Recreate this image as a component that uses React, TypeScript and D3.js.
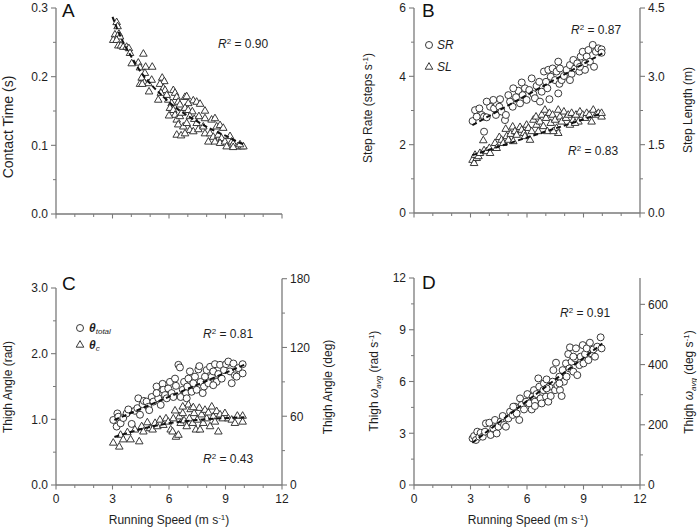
import React from 'react';
import * as d3 from 'd3';

// ---------------- DATA ----------------
// Panel A: contact time (s) vs running speed (m/s)
const contactTime: [number, number][] = [
  [3.22,0.279],[3.27,0.273],[3.13,0.261],[3.34,0.262],[3.40,0.258],[3.04,0.253],[3.22,0.253],[3.31,0.245],
  [3.45,0.245],[3.57,0.243],[3.75,0.243],[3.87,0.241],[3.93,0.234],[4.64,0.233],[4.02,0.219],[4.37,0.220],
  [4.46,0.213],[4.76,0.214],[5.11,0.214],[4.72,0.205],[4.55,0.198],[4.69,0.191],[4.90,0.190],[5.08,0.195],
  [4.46,0.189],[4.58,0.189],[5.64,0.198],[5.75,0.193],[5.52,0.189],[5.70,0.183],[5.79,0.180],[5.57,0.176],
  [4.94,0.178],[6.23,0.180],[6.32,0.176],[6.41,0.170],[5.96,0.166],[6.14,0.161],[6.49,0.163],[6.58,0.159],
  [6.85,0.170],[6.94,0.171],[7.29,0.165],[7.47,0.163],[7.65,0.160],[7.02,0.161],[6.05,0.154],[6.23,0.151],
  [6.32,0.144],[6.00,0.143],[6.41,0.137],[6.58,0.142],[6.67,0.147],[6.85,0.154],[7.02,0.151],[7.24,0.149],
  [7.91,0.150],[7.11,0.142],[7.34,0.138],[7.47,0.132],[7.59,0.142],[6.49,0.130],[6.76,0.127],[6.94,0.132],
  [7.11,0.122],[6.41,0.115],[6.64,0.114],[6.85,0.117],[7.29,0.120],[7.56,0.123],[7.82,0.127],[7.91,0.139],
  [8.26,0.137],[8.44,0.139],[8.53,0.127],[8.71,0.129],[8.88,0.125],[7.91,0.117],[8.18,0.117],[8.35,0.112],
  [8.62,0.115],[8.79,0.110],[8.09,0.105],[8.44,0.105],[8.71,0.103],[8.97,0.105],[9.24,0.113],[9.33,0.105],
  [9.06,0.098],[9.41,0.102],[9.64,0.098],[9.86,0.098],[9.41,0.097],[9.95,0.098],[9.77,0.101],[5.88,0.173],
  [5.43,0.166],
];
const contactFit: [number, number][] = [
  [3.0,0.287],[3.5,0.254],[4,0.229],[4.5,0.207],[5,0.190],[5.5,0.176],[6,0.163],[6.5,0.152],
  [7,0.143],[7.5,0.135],[8,0.127],[8.5,0.120],[9,0.114],[9.5,0.107],[10,0.101],
];

// Panel B: step rate (steps/s) and step length (m)
const stepRate: [number, number][] = [
  [3.11,2.69],[3.24,3.01],[3.47,3.06],[3.59,2.87],[3.33,2.82],[3.72,2.82],[3.86,2.80],[3.72,2.38],
  [4.04,3.11],[4.25,3.06],[4.39,3.21],[4.53,3.11],[4.35,2.87],[4.65,2.97],[4.83,2.72],[4.88,2.87],
  [4.57,3.33],[5.01,3.45],[5.10,3.26],[5.24,3.11],[5.42,3.39],[5.54,3.58],[5.63,3.21],[5.77,3.45],
  [5.89,3.65],[5.98,3.31],[6.25,3.94],[6.12,3.60],[6.34,3.48],[6.42,3.36],[6.51,3.72],[6.65,3.84],
  [6.69,3.26],[6.78,3.55],[6.90,4.14],[7.01,3.84],[7.08,3.65],[7.19,3.33],[7.13,4.19],[7.36,4.23],
  [7.26,3.99],[7.49,3.89],[7.57,4.14],[7.66,4.43],[7.72,3.78],[7.84,3.89],[7.66,3.50],[7.96,4.01],
  [8.10,4.19],[8.28,4.33],[8.37,4.07],[8.46,4.48],[8.55,4.23],[8.67,4.38],[8.78,4.14],[8.85,4.58],
  [8.96,4.72],[9.08,4.38],[9.17,4.58],[9.26,4.77],[9.08,4.19],[9.34,4.43],[9.49,4.92],[9.56,4.28],
  [9.66,4.72],[9.79,4.82],[9.96,4.79],[9.96,4.69],[8.81,4.28],[8.28,3.89],[7.75,4.23],[5.72,3.82],
  [5.27,3.65],[4.21,3.31],[3.86,3.26],
];
const stepRateFit: [number, number][] = [[3.1,2.57],[10,4.67]];

const stepLength: [number, number][] = [
  [3.11,1.16],[3.19,1.09],[3.33,1.20],[3.24,1.27],[3.42,1.24],[3.50,1.31],[3.68,1.59],[3.72,1.37],
  [3.86,1.35],[4.00,1.42],[4.04,1.31],[4.30,1.53],[4.39,1.42],[4.53,1.66],[4.65,1.60],[4.74,1.53],
  [4.87,1.84],[4.92,1.68],[5.01,1.60],[5.13,1.73],[5.24,1.89],[5.36,1.79],[5.45,1.71],[5.63,1.88],
  [5.72,1.82],[5.84,1.75],[5.98,1.93],[6.07,1.86],[6.16,1.60],[6.25,1.79],[6.34,2.04],[6.48,2.11],
  [6.51,1.93],[6.60,1.79],[6.69,2.00],[6.78,2.15],[6.87,1.90],[6.95,2.26],[7.01,2.08],[7.08,1.79],
  [7.19,2.19],[7.26,1.97],[7.36,2.15],[7.49,2.04],[7.57,1.86],[7.66,2.26],[7.66,1.75],[7.75,2.11],
  [7.84,2.00],[7.96,2.22],[8.07,2.08],[8.19,2.15],[8.28,1.93],[8.37,2.19],[8.46,2.04],[8.60,2.15],
  [8.73,2.00],[8.81,2.22],[8.96,2.15],[9.08,2.08],[9.17,2.19],[9.31,2.15],[9.43,2.00],[9.52,2.26],
  [9.66,2.15],[9.79,2.19],[9.96,2.11],[9.96,2.19],[8.55,1.97],[7.40,1.79],[5.89,1.68],[5.27,1.57],
];
const stepLengthFit: [number, number][] = [[3.1,1.27],[10,2.19]];

// Panel C: thigh angle (rad)
const thetaTotal: [number, number][] = [
  [3.04,0.99],[3.26,1.09],[3.31,1.04],[3.22,0.89],[3.43,0.94],[3.57,1.02],[3.75,1.09],[3.84,1.15],
  [4.02,0.93],[4.19,1.13],[4.32,1.17],[4.37,1.32],[4.46,1.07],[4.60,1.23],[4.67,1.28],[4.81,1.27],
  [4.90,1.19],[4.95,1.14],[5.08,1.34],[5.17,1.27],[5.34,1.50],[5.43,1.32],[5.56,1.22],[5.66,1.54],
  [5.70,1.45],[5.79,1.37],[5.88,1.32],[5.96,1.47],[6.05,1.57],[6.14,1.40],[6.23,1.34],[6.32,1.62],
  [6.37,1.51],[6.50,1.83],[6.58,1.79],[6.62,1.34],[6.73,1.45],[6.80,1.57],[6.90,1.40],[6.97,1.50],
  [7.03,1.62],[7.11,1.73],[7.20,1.42],[7.29,1.55],[7.38,1.65],[7.47,1.45],[7.56,1.76],[7.61,1.81],
  [7.68,1.57],[7.79,1.40],[7.86,1.50],[7.91,1.65],[8.00,1.75],[8.09,1.55],[8.18,1.80],[8.27,1.65],
  [8.35,1.73],[8.44,1.84],[8.53,1.57],[8.62,1.69],[8.71,1.83],[8.80,1.62],[8.92,1.75],[9.03,1.84],
  [9.15,1.88],[9.24,1.73],[9.33,1.55],[9.42,1.85],[9.50,1.67],[9.59,1.65],[9.68,1.78],[9.91,1.84],
  [9.91,1.70],[8.35,1.52],[6.94,1.32],[5.34,1.40],
];
const thetaTotalFit: [number, number][] = [[3.1,0.99],[10,1.83]];

const thetaC: [number, number][] = [
  [3.04,0.64],[3.36,0.58],[3.43,0.76],[3.57,0.69],[3.79,0.80],[3.96,0.69],[4.19,0.84],[4.42,0.66],
  [4.55,0.89],[4.64,0.81],[4.85,0.95],[4.99,0.86],[5.13,0.84],[5.26,0.94],[5.38,0.89],[5.52,0.99],
  [5.70,0.91],[5.84,1.01],[5.96,0.96],[6.09,0.84],[6.19,0.81],[6.23,1.01],[6.32,1.13],[6.37,0.73],
  [6.50,0.76],[6.55,1.04],[6.62,0.94],[6.73,1.09],[6.80,0.98],[6.94,0.89],[7.03,1.22],[7.08,1.01],
  [7.15,1.15],[7.26,0.94],[7.33,1.09],[7.43,0.84],[7.50,0.99],[7.61,1.17],[7.65,0.84],[7.73,1.07],
  [7.82,0.94],[7.91,1.14],[8.00,1.01],[8.09,1.10],[8.18,0.89],[8.27,1.19],[8.35,1.04],[8.44,0.96],
  [8.53,1.12],[8.62,0.81],[8.71,1.07],[8.85,1.01],[8.97,1.09],[9.15,1.01],[9.33,0.99],[9.50,0.94],
  [9.63,1.05],[9.91,0.96],[9.91,1.05],[7.29,1.18],[6.73,1.19],
];
const thetaCFit: [number, number][] = [[3.1,0.73],[4.5,0.85],[6,0.94],[7.5,0.99],[10,1.03]];

// Panel D: thigh average angular velocity (rad/s)
const omegaAvg: [number, number][] = [
  [3.11,2.70],[3.19,2.84],[3.29,2.61],[3.36,3.09],[3.47,2.80],[3.54,3.03],[3.65,2.80],[3.77,3.09],
  [3.82,3.57],[4.00,3.61],[4.07,2.90],[4.21,3.28],[4.30,3.77],[4.39,2.99],[4.48,3.38],[4.60,3.67],
  [4.71,4.00],[4.78,3.48],[4.88,3.38],[5.01,3.86],[5.10,4.25],[5.24,4.06],[5.36,4.54],[5.45,4.15],
  [5.59,3.77],[5.63,5.02],[5.72,4.64],[5.84,4.38],[5.95,4.83],[6.02,5.27],[6.12,4.73],[6.25,4.38],
  [6.30,5.12],[6.37,5.50],[6.42,4.83],[6.51,5.27],[6.60,6.18],[6.65,5.70],[6.72,5.02],[6.78,4.73],
  [6.87,5.50],[6.90,5.89],[7.01,5.12],[7.04,6.12],[7.13,4.83],[7.19,5.70],[7.26,5.16],[7.36,5.99],
  [7.40,6.66],[7.49,5.50],[7.54,7.09],[7.61,5.79],[7.72,6.28],[7.75,5.50],[7.84,5.16],[7.89,6.66],
  [7.96,5.99],[8.07,7.05],[8.10,6.28],[8.19,7.59],[8.25,6.76],[8.28,7.98],[8.37,7.15],[8.46,6.57],
  [8.55,7.34],[8.60,7.92],[8.67,6.37],[8.78,6.95],[8.85,7.44],[8.96,8.11],[9.00,7.05],[9.08,7.59],
  [9.17,7.92],[9.26,7.24],[9.34,8.25],[9.43,7.63],[9.52,7.86],[9.61,7.44],[9.73,8.02],[9.91,8.56],
  [9.96,7.92],[8.46,7.44],[7.72,5.89],[7.04,5.60],[6.42,4.58],[5.27,4.54],
];
const omegaFit: [number, number][] = [[3.1,2.45],[10,8.2]];

const xMajor = [0, 3, 6, 9, 12];
const xMinor = [1, 2, 4, 5, 7, 8, 10, 11];

// ---------------- STYLE ----------------
const FONT = "'Liberation Sans', Arial, Helvetica, sans-serif";
const AX = '#7a7a7a';
const TXT = '#1e1e1e';
const MK = '#2e2e2e';

type S = d3.ScaleLinear<number, number>;

function YAxis({ s, x, side, major, minor, fmt, top }: { s: S; x: number; side: 'left' | 'right'; major: number[]; minor: number[]; fmt: (v: number) => string; top?: number }) {
  const dir = side === 'left' ? -1 : 1;
  const d = s.domain();
  return (
    <g>
      <line x1={x} x2={x} y1={s(d[0])} y2={top ?? s(d[1])} stroke={AX} strokeWidth={1.3} />
      {minor.map((v) => (
        <line key={'m' + v} x1={x} x2={x + dir * 3} y1={s(v)} y2={s(v)} stroke={AX} strokeWidth={1} />
      ))}
      {major.map((v) => (
        <g key={'M' + v}>
          <line x1={x} x2={x + dir * 5} y1={s(v)} y2={s(v)} stroke={AX} strokeWidth={1.1} />
          <text x={x + dir * 8} y={s(v)} dy="0.36em" textAnchor={side === 'left' ? 'end' : 'start'} fontSize={12} fill={TXT}>
            {fmt(v)}
          </text>
        </g>
      ))}
    </g>
  );
}

function XAxis({ s, y, labels }: { s: S; y: number; labels: boolean }) {
  const d = s.domain();
  return (
    <g>
      <line x1={s(d[0])} x2={s(d[1])} y1={y} y2={y} stroke={AX} strokeWidth={1.3} />
      {xMinor.map((v) => (
        <line key={'m' + v} x1={s(v)} x2={s(v)} y1={y} y2={y + 3} stroke={AX} strokeWidth={1} />
      ))}
      {xMajor.map((v) => (
        <g key={'M' + v}>
          <line x1={s(v)} x2={s(v)} y1={y} y2={y + 4.5} stroke={AX} strokeWidth={1.1} />
          {labels && (
            <text x={s(v)} y={y + 18} textAnchor="middle" fontSize={12} fill={TXT}>
              {v}
            </text>
          )}
        </g>
      ))}
    </g>
  );
}

const triPath = d3.symbol().type(d3.symbolTriangle).size(25)() as string;

function Circles({ data, xs, ys }: { data: [number, number][]; xs: S; ys: S }) {
  return (
    <g>
      {data.map((p, i) => (
        <circle key={i} cx={xs(p[0])} cy={ys(p[1])} r={3.5} fill="#fff" stroke={MK} strokeWidth={0.95} />
      ))}
    </g>
  );
}
function Triangles({ data, xs, ys }: { data: [number, number][]; xs: S; ys: S }) {
  return (
    <g>
      {data.map((p, i) => (
        <path key={i} d={triPath} transform={`translate(${xs(p[0])},${ys(p[1])})`} fill="#fff" stroke={MK} strokeWidth={0.95} />
      ))}
    </g>
  );
}
function Fit({ data, xs, ys }: { data: [number, number][]; xs: S; ys: S }) {
  const line = d3
    .line<[number, number]>()
    .x((d) => xs(d[0]))
    .y((d) => ys(d[1]))
    .curve(d3.curveMonotoneX);
  return <path d={line(data) ?? ''} fill="none" stroke="#111" strokeWidth={2} strokeDasharray="5,3" />;
}

function R2({ x, y, v }: { x: number; y: number; v: string }) {
  return (
    <text x={x} y={y} fontSize={12} fill={TXT}>
      <tspan fontStyle="italic">R</tspan>
      <tspan fontSize={8} dy={-4}>2</tspan>
      <tspan dy={4}>{` = ${v}`}</tspan>
    </text>
  );
}

function Letter({ x, y, t }: { x: number; y: number; t: string }) {
  return (
    <text x={x} y={y} fontSize={19} fill="#111">
      {t}
    </text>
  );
}

function VTitle({ cx, cy, children, size = 12 }: { cx: number; cy: number; children: React.ReactNode; size?: number }) {
  return (
    <text transform={`translate(${cx},${cy}) rotate(-90)`} textAnchor="middle" dy="0.35em" fontSize={size} fill={TXT}>
      {children}
    </text>
  );
}

function PerSec({ pre }: { pre: string }) {
  return (
    <>
      <tspan>{pre}</tspan>
      <tspan fontSize={8} dy={-4}>-1</tspan>
      <tspan dy={4}>)</tspan>
    </>
  );
}

function OmegaTitle({ unit }: { unit: string }) {
  return (
    <>
      <tspan>Thigh </tspan>
      <tspan fontStyle="italic">ω</tspan>
      <tspan fontStyle="italic" fontSize={8} dy={3}>avg</tspan>
      <tspan dy={-3}>{` (${unit} s`}</tspan>
      <tspan fontSize={8} dy={-4}>-1</tspan>
      <tspan dy={4}>)</tspan>
    </>
  );
}

export default function App() {
  // scales
  const xL = d3.scaleLinear().domain([0, 12]).range([56, 282]);
  const xR = d3.scaleLinear().domain([0, 12]).range([414, 640]);

  const yA = d3.scaleLinear().domain([0, 0.3]).range([214, 8]);

  const yB = d3.scaleLinear().domain([0, 6]).range([213, 8]);
  const yBr = d3.scaleLinear().domain([0, 4.5]).range([213, 8]);

  const yC = d3.scaleLinear().domain([0, 3]).range([485, 288]);
  const yCr = d3.scaleLinear().domain([0, 180]).range([485, yC(Math.PI)]);

  const yD = d3.scaleLinear().domain([0, 12]).range([485, 278]);
  const yDr = d3.scaleLinear().domain([0, (12 * 180) / Math.PI]).range([485, 278]);

  const f1 = d3.format('.1f');
  const f0 = (v: number) => String(v);

  return (
    <svg width={697} height={529} style={{ position: 'absolute', left: 0, top: 0, background: '#fff' }} fontFamily={FONT}>
      <rect width={697} height={529} fill="#fff" />

      {/* ---------- Panel A ---------- */}
      <YAxis s={yA} x={56} side="left" major={[0, 0.1, 0.2, 0.3]} minor={[0.05, 0.15, 0.25]} fmt={f1} />
      <XAxis s={xL} y={214} labels={false} />
      <Triangles data={contactTime} xs={xL} ys={yA} />
      <Fit data={contactFit} xs={xL} ys={yA} />
      <R2 x={218} y={48} v="0.90" />
      <Letter x={62} y={17} t="A" />
      <VTitle cx={8} cy={127} size={14}>Contact Time (s)</VTitle>

      {/* ---------- Panel B ---------- */}
      <YAxis s={yB} x={414} side="left" major={[0, 2, 4, 6]} minor={[1, 3, 5]} fmt={f0} />
      <YAxis s={yBr} x={640} side="right" major={[0, 1.5, 3, 4.5]} minor={[0.75, 2.25, 3.75]} fmt={f1} />
      <XAxis s={xR} y={213} labels={false} />
      <Circles data={stepRate} xs={xR} ys={yB} />
      <Triangles data={stepLength} xs={xR} ys={yBr} />
      <Fit data={stepRateFit} xs={xR} ys={yB} />
      <Fit data={stepLengthFit} xs={xR} ys={yBr} />
      <R2 x={571} y={34} v="0.87" />
      <R2 x={568} y={155} v="0.83" />
      <Letter x={422} y={17} t="B" />
      <circle cx={429} cy={45} r={3.5} fill="#fff" stroke={MK} strokeWidth={0.95} />
      <text x={437} y={49} fontSize={12} fontStyle="italic" fill={TXT}>SR</text>
      <path d={triPath} transform="translate(429,67)" fill="#fff" stroke={MK} strokeWidth={0.95} />
      <text x={437} y={71} fontSize={12} fontStyle="italic" fill={TXT}>SL</text>
      <VTitle cx={368} cy={108}>
        <PerSec pre="Step Rate (steps s" />
      </VTitle>
      <VTitle cx={688} cy={110}>Step Length (m)</VTitle>

      {/* ---------- Panel C ---------- */}
      <YAxis s={yC} x={56} side="left" major={[0, 1, 2, 3]} minor={[0.5, 1.5, 2.5]} fmt={f1} />
      <YAxis s={yCr} x={282} side="right" major={[0, 60, 120, 180]} minor={[30, 90, 150]} fmt={f0} />
      <XAxis s={xL} y={485} labels={true} />
      <Circles data={thetaTotal} xs={xL} ys={yC} />
      <Triangles data={thetaC} xs={xL} ys={yC} />
      <Fit data={thetaTotalFit} xs={xL} ys={yC} />
      <Fit data={thetaCFit} xs={xL} ys={yC} />
      <R2 x={203} y={338} v="0.81" />
      <R2 x={203} y={463} v="0.43" />
      <Letter x={62} y={290} t="C" />
      <circle cx={80} cy={328} r={3.5} fill="#fff" stroke={MK} strokeWidth={0.95} />
      <text x={89} y={332} fontSize={12} fill={TXT}>
        <tspan fontStyle="italic" fontWeight="bold">θ</tspan>
        <tspan fontStyle="italic" fontSize={8} dy={2}>total</tspan>
      </text>
      <path d={triPath} transform="translate(80,345)" fill="#fff" stroke={MK} strokeWidth={0.95} />
      <text x={89} y={349} fontSize={12} fill={TXT}>
        <tspan fontStyle="italic" fontWeight="bold">θ</tspan>
        <tspan fontStyle="italic" fontSize={8} dy={2}>c</tspan>
      </text>
      <VTitle cx={8} cy={387}>Thigh Angle (rad)</VTitle>
      <VTitle cx={328} cy={387}>Thigh Angle (deg)</VTitle>
      <text x={169} y={524} textAnchor="middle" fontSize={12} fill={TXT}>
        <PerSec pre="Running Speed (m s" />
      </text>

      {/* ---------- Panel D ---------- */}
      <YAxis s={yD} x={414} side="left" major={[0, 3, 6, 9, 12]} minor={[1.5, 4.5, 7.5, 10.5]} fmt={f0} />
      <YAxis s={yDr} x={640} side="right" major={[0, 200, 400, 600]} minor={[100, 300, 500]} fmt={f0} top={278} />
      <XAxis s={xR} y={485} labels={true} />
      <Circles data={omegaAvg} xs={xR} ys={yD} />
      <Fit data={omegaFit} xs={xR} ys={yD} />
      <R2 x={560} y={317} v="0.91" />
      <Letter x={422} y={289} t="D" />
      <VTitle cx={374} cy={381}>
        <OmegaTitle unit="rad" />
      </VTitle>
      <VTitle cx={689} cy={382}>
        <OmegaTitle unit="deg" />
      </VTitle>
      <text x={528} y={524} textAnchor="middle" fontSize={12} fill={TXT}>
        <PerSec pre="Running Speed (m s" />
      </text>
    </svg>
  );
}
